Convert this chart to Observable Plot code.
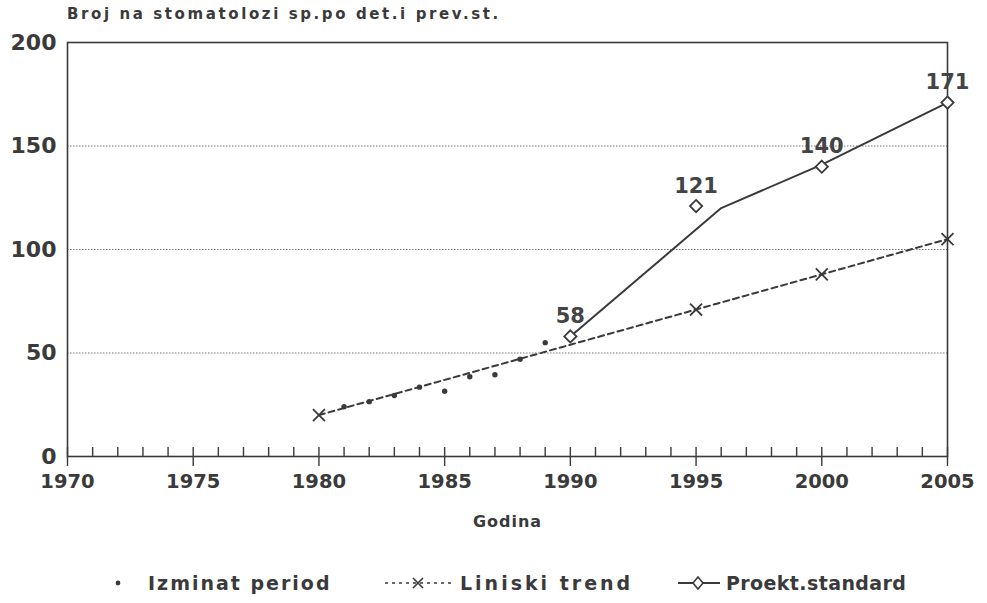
<!DOCTYPE html>
<html>
<head>
<meta charset="utf-8">
<script src="https://cdn.jsdelivr.net/npm/d3@7"></script>
<script src="https://cdn.jsdelivr.net/npm/@observablehq/plot@0.6"></script>
<style>
  html, body { margin: 0; padding: 0; background: #ffffff; }
  #wrap { position: relative; width: 987px; height: 603px; color: #3a3a3a; }
  #title { position: absolute; left: 67px; top: 5px; font: bold 15px "DejaVu Sans", sans-serif; letter-spacing: 2.6px; color: #3a3a3a; }
  #chart { position: absolute; left: 0; top: 0; }
  #legend { position: absolute; left: 0; top: 566px; width: 987px; height: 34px; font: bold 19px "DejaVu Sans", sans-serif; color: #3a3a3a; }
  .li { position: absolute; top: 0; display: flex; align-items: center; height: 34px; white-space: nowrap; }
</style>
</head>
<body>
<div id="wrap">
  <div id="chart"></div>
  <div id="title">Broj na stomatolozi sp.po det.i prev.st.</div>
  <div id="legend"></div>
</div>
<script>
// ---- data ----
const pastYears = [1981, 1982, 1983, 1984, 1985, 1986, 1987, 1988, 1989];
const pastValues = [24, 26.5, 29.5, 33.5, 31.5, 38.5, 39.5, 47, 55];

const trendYears = [1980, 1985, 1990, 1995, 2000, 2005];
const trendValues = [20, 37, 54, 71, 88, 105];
const trendMarkerYears = [1980, 1995, 2000, 2005];

const projLineYears = [1990, 1996, 2000, 2005];
const projLineValues = [58, 120, 141, 171];

const projYears = [1990, 1995, 2000, 2005];
const projValues = [58, 121, 140, 171];
const projLabels = ["58", "121", "140", "171"];

const yTicks = [0, 50, 100, 150, 200];
const gridValues = [50, 100, 150];
const xMajorTicks = [1970, 1975, 1980, 1985, 1990, 1995, 2000, 2005];
const xMinorTicks = d3.range(1970, 2006);

const seriesNames = ["Izminat period", "Liniski trend", "Proekt.standard"];

// ---- tables ----
const past = pastYears.map((y, i) => ({year: y, value: pastValues[i]}));
const trend = trendYears.map((y, i) => ({year: y, value: trendValues[i]}));
const trendMarks = trend.filter(d => trendMarkerYears.includes(d.year));
const projLine = projLineYears.map((y, i) => ({year: y, value: projLineValues[i]}));
const proj = projYears.map((y, i) => ({year: y, value: projValues[i], label: projLabels[i]}));

const ink = "#3a3a3a";

const chart = Plot.plot({
  width: 987,
  height: 540,
  marginLeft: 67,
  marginRight: 40,
  marginTop: 42,
  marginBottom: 84,
  style: {background: "transparent", color: ink},
  x: {domain: [1970, 2005]},
  y: {domain: [0, 200]},
  marks: [
    Plot.ruleY(gridValues, {stroke: "#777", strokeWidth: 1, strokeDasharray: "1.5,1.5"}),
    Plot.frame({stroke: ink, strokeWidth: 1.6}),
    Plot.axisY({ticks: yTicks, tickSize: 0, tickPadding: 11, label: null,
      fontSize: 22, fontWeight: "bold", fontFamily: "DejaVu Sans", fill: ink}),
    Plot.axisX({ticks: xMinorTicks, tickSize: -9, text: null, label: null, stroke: ink, strokeWidth: 1.4}),
    Plot.axisX({ticks: xMajorTicks, tickSize: 10, tickPadding: 8, tickFormat: d => String(d),
      fontSize: 19.5, fontWeight: "bold", fontFamily: "DejaVu Sans", fill: ink, stroke: ink, strokeWidth: 1.4,
      label: "Godina", labelAnchor: "center", labelArrow: "none", labelOffset: 70}),
    Plot.line(trend, {x: "year", y: "value", stroke: ink, strokeWidth: 2, strokeDasharray: "6,4"}),
    Plot.dot(trendMarks, {x: "year", y: "value", symbol: "times", r: 5.5, stroke: ink, strokeWidth: 1.8}),
    Plot.line(projLine, {x: "year", y: "value", stroke: ink, strokeWidth: 2}),
    Plot.dot(proj, {x: "year", y: "value", symbol: "diamond2", r: 5.5, stroke: ink, strokeWidth: 1.8, fill: "white"}),
    Plot.dot(past, {x: "year", y: "value", r: 2.7, fill: ink, stroke: "none"}),
    Plot.text(proj, {x: "year", y: "value", text: "label", dy: -20, fontSize: 21, fontWeight: "bold",
      fontFamily: "DejaVu Sans", fill: "#444"})
  ]
});
// style the x label
d3.select(chart).selectAll("g[aria-label='x-axis label'] text")
  .attr("font-size", 16).attr("font-weight", "bold").attr("font-family", "DejaVu Sans")
  .attr("letter-spacing", "1px");
document.getElementById("chart").appendChild(chart);

// ---- legend ----
const legend = document.getElementById("legend");
const items = [
  {left: 111, ls: 2.0, sym: `<svg width="14" height="14"><circle cx="7" cy="7" r="2.4" fill="${ink}"/></svg>`, textLeft: 148, name: seriesNames[0]},
  {left: 383, ls: 3.0, sym: `<svg width="72" height="20"><line x1="2" y1="10" x2="70" y2="10" stroke="${ink}" stroke-width="1.6" stroke-dasharray="3,4"/><path d="M30,5L40,15M40,5L30,15" stroke="${ink}" stroke-width="1.6" fill="white"/></svg>`, textLeft: 460, name: seriesNames[1]},
  {left: 676, ls: 0.4, sym: `<svg width="46" height="20"><line x1="2" y1="10" x2="44" y2="10" stroke="${ink}" stroke-width="1.8"/><path d="M22,4L27,10L22,16L17,10Z" stroke="${ink}" stroke-width="1.6" fill="white"/></svg>`, textLeft: 726, name: seriesNames[2]}
];
for (const it of items) {
  const s = document.createElement("div");
  s.className = "li"; s.style.left = it.left + "px"; s.innerHTML = it.sym;
  legend.appendChild(s);
  const t = document.createElement("div");
  t.className = "li"; t.style.left = it.textLeft + "px"; t.style.letterSpacing = it.ls + "px";
  t.textContent = it.name;
  legend.appendChild(t);
}
</script>
</body>
</html>
